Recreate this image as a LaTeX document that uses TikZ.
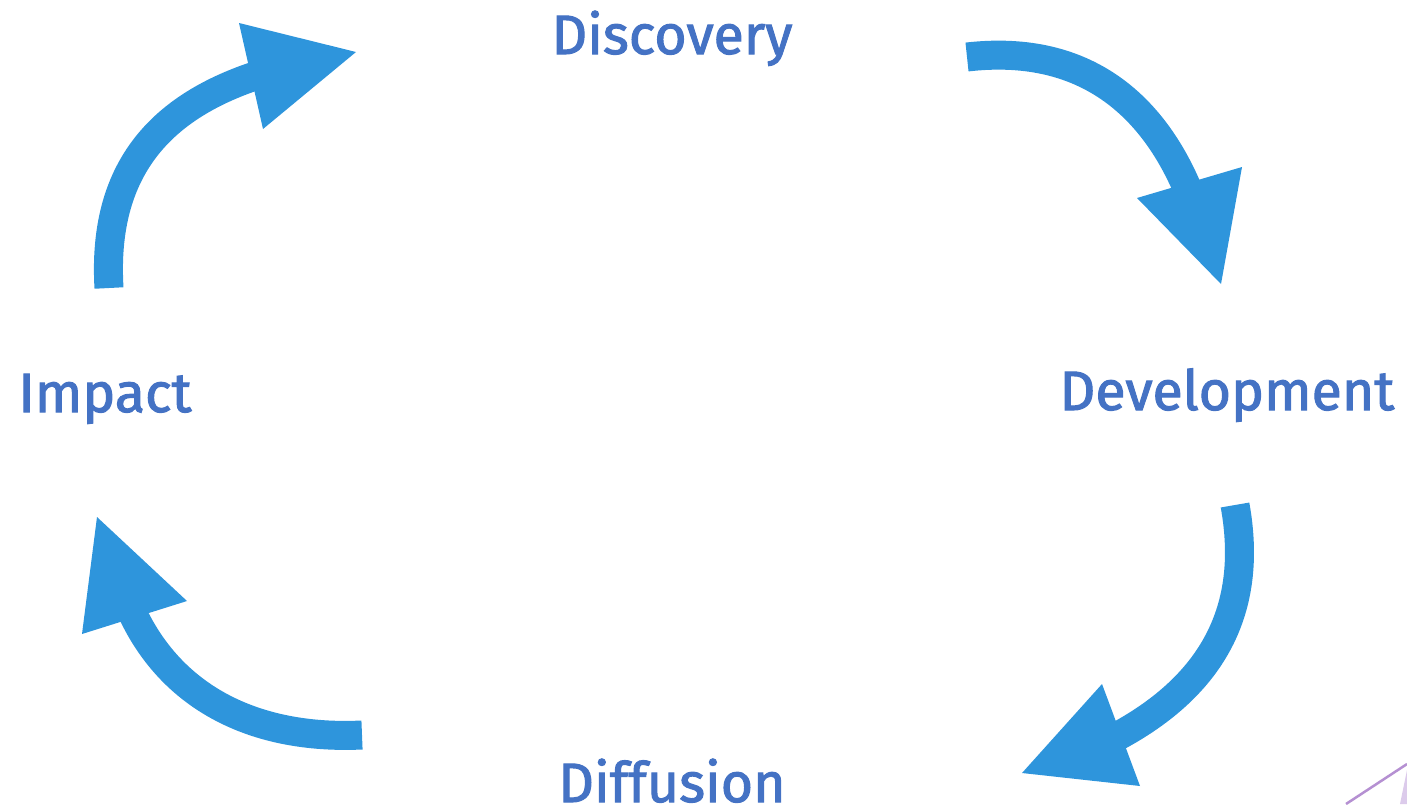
\documentclass[tikz,border=0pt]{standalone}
\usepackage{fontspec}
\setmainfont{Fira Sans}[BoldFont={Fira Sans},BoldFeatures={FakeBold=1.8}]
\begin{document}
\begin{tikzpicture}[x=1pt,y=-1pt,
  lbl/.style={text=txtblue,font=\bfseries\fontsize{55.5}{57}\selectfont,inner sep=0pt,anchor=base},
  shaft/.style={draw=arrblue,line width=29pt,line cap=butt},
  head/.style={fill=arrblue,draw=none}]
\definecolor{txtblue}{HTML}{4472C4}
\definecolor{arrblue}{HTML}{2E95DC}
\definecolor{lilac}{HTML}{B590D2}
\definecolor{lilacfill}{HTML}{DCCBEB}
\useasboundingbox (0,0) rectangle (1407,804);
% labels
\node[lbl] (disc) at (672,54) {Discovery};
\node[lbl] (dev) at (1227,410) {Development};
\node[lbl] (diff) at (672,802) {Diffusion};
\node[lbl] (imp) at (105,412) {Impact};
% arrow 1: Impact -> Discovery
\coordinate (a1s) at (109,288);
\coordinate (a1e) at (255,76);
\draw[shaft] (a1s) .. controls (102,170) and (160,108) .. (a1e);
\fill[head] (239,23) -- (356,52) -- (263,129) -- cycle;
% arrow 2: Discovery -> Development
\coordinate (a2s) at (967,57);
\coordinate (a2e) at (1188,190);
\draw[shaft] (a2s) .. controls (1080,44) and (1150,100) .. (a2e);
\fill[head] (1137,198) -- (1242,167) -- (1221,284) -- cycle;
% arrow 3: Development -> Diffusion
\coordinate (a3s) at (1235,505);
\coordinate (a3e) at (1118,736);
\draw[shaft] (a3s) .. controls (1254,610) and (1212,685) .. (a3e);
\fill[head] (1022,773) -- (1102,684) -- (1140,786) -- cycle;
% arrow 4: Diffusion -> Impact
\coordinate (a4s) at (362,735);
\coordinate (a4e) at (132,612);
\draw[shaft] (a4s) .. controls (255,740) and (172,698) .. (a4e);
\fill[head] (97,517) -- (187,601) -- (82,634) -- cycle;
% corner decoration
\fill[lilacfill] (1400,804) -- (1407,770) -- (1407,804) -- cycle;
\draw[lilac,line width=2.5pt] (1346,804) -- (1407,764);
\end{tikzpicture}
\end{document}
